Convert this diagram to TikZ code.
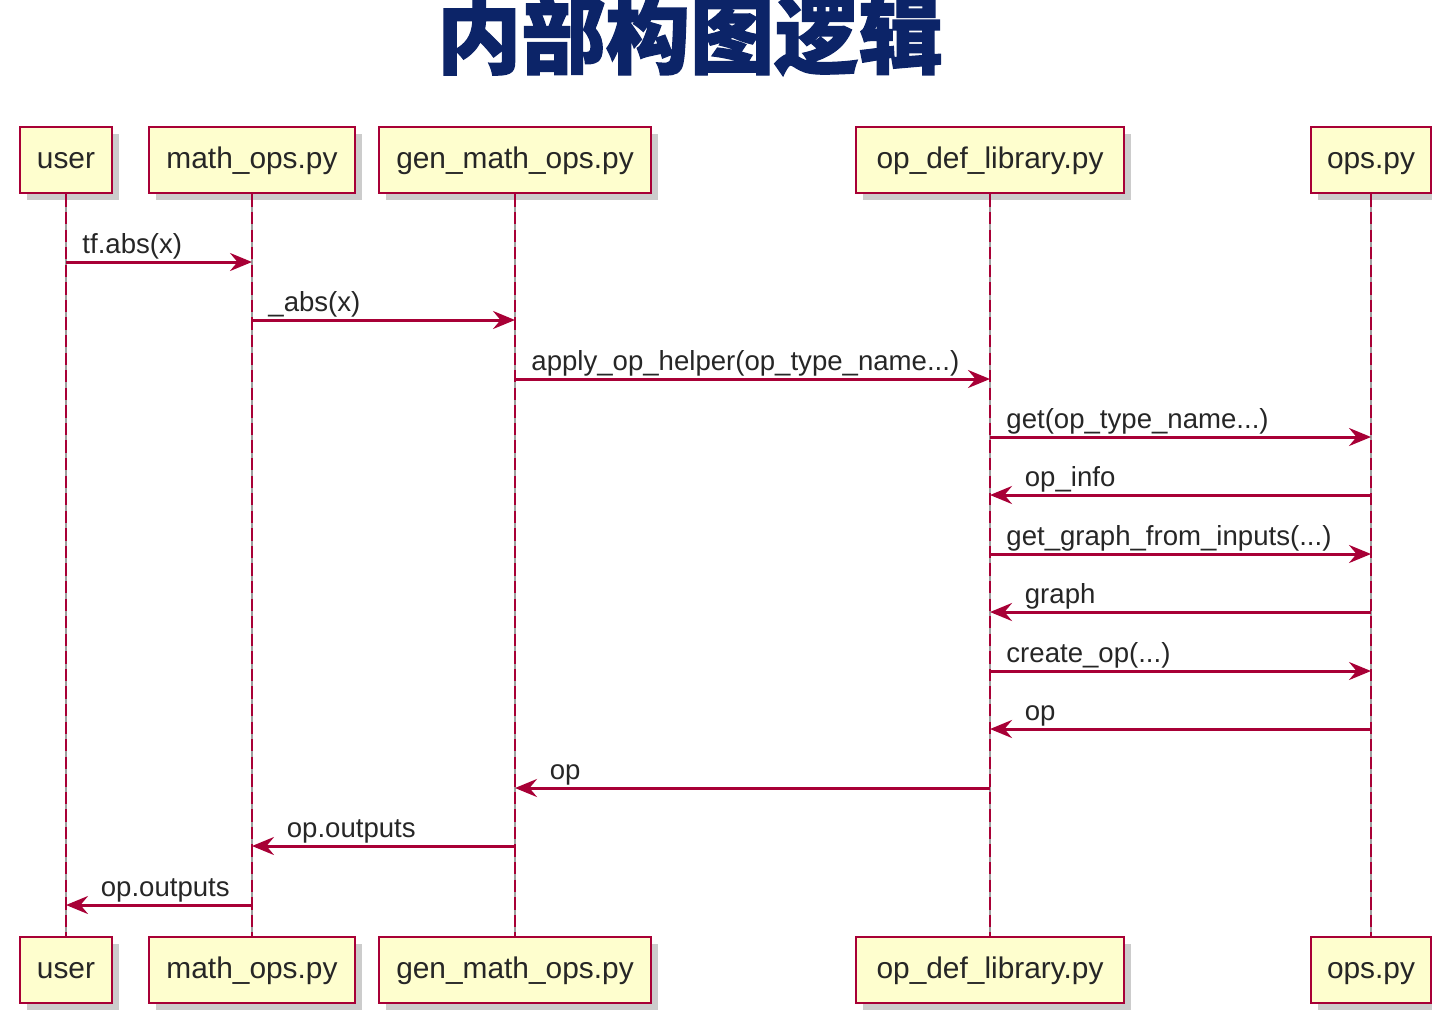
\documentclass[tikz,border=0pt]{standalone}
\usepackage{fontspec}
\setmainfont{Liberation Sans}
\newfontfamily\cjk[BoldFeatures={FakeBold=1.5}]{Noto Sans CJK SC}
\usetikzlibrary{shadows,arrows.meta}
\definecolor{umlred}{HTML}{A80036}
\definecolor{umlfill}{HTML}{FEFECE}
\definecolor{titleblue}{RGB}{12,36,104}

\begin{document}
\begin{tikzpicture}[x=0.02cm,y=-0.02cm,
	box/.style={draw=umlred,fill=umlfill,line width=1.6pt,minimum height=1.32cm,
		font=\fontsize{17}{20}\selectfont,text=black!85,text height=13pt,text depth=3pt,
		drop shadow={shadow xshift=4pt,shadow yshift=-4pt,fill=gray,opacity=.4}},
	lifeline/.style={draw=umlred,line width=1.3pt,dash pattern=on 7pt off 3pt,
		preaction={draw=gray!75,line width=1.3pt}},
	msg/.style={draw=umlred,line width=1.7pt,-{Stealth[length=0.44cm,width=0.36cm,inset=0.15cm]}},
	lbl/.style={font=\fontsize{15.7}{19}\selectfont,text=black!85,inner sep=0pt}]
				\useasboundingbox (0,0) rectangle (1432,1012);
				
				\node[text=titleblue,anchor=base,inner sep=0pt] (title) at (690,67)
					{\cjk\bfseries\fontsize{48}{50}\selectfont 内部构图逻辑};
				
				%participants, top and bottom
				\foreach \n/\x/\w/\txt in {user/66/92/user, math/252/206/math\_ops.py,
					gen/515/272/gen\_math\_ops.py, opdef/990/268/op\_def\_library.py,
					ops/1371/120/ops.py}{
					\node[box,minimum width=\w*0.02cm] (\n-t) at (\x,160) {\txt};
					\node[box,minimum width=\w*0.02cm] (\n-b) at (\x,970) {\txt};
					\draw[lifeline] (\n-t) -- (\n-b);
				}
				
				%calls
				\foreach \a/\b/\y/\txt in {user/math/262/{tf.abs(x)}, math/gen/320/{\_abs(x)},
					gen/opdef/379/{apply\_op\_helper(op\_type\_name...)},
					opdef/ops/437/{get(op\_type\_name...)},
					opdef/ops/554/{get\_graph\_from\_inputs(...)},
					opdef/ops/671/{create\_op(...)}}{
					\draw[msg] (\a-t |- 0,\y) -- (\b-t |- 0,\y)
						node[lbl,pos=0,anchor=base west,xshift=8.5pt,yshift=5pt] {\txt};
				}
				
				%returns
				\foreach \a/\b/\y/\txt in {ops/opdef/495/op\_info, ops/opdef/612/graph,
					ops/opdef/729/op, opdef/gen/788/op, gen/math/846/op.outputs,
					math/user/905/op.outputs}{
					\draw[msg] (\a-t |- 0,\y) -- (\b-t |- 0,\y)
						node[lbl,pos=1,anchor=base west,xshift=19pt,yshift=5pt] {\txt};
				}
			\end{tikzpicture}
\end{document}
